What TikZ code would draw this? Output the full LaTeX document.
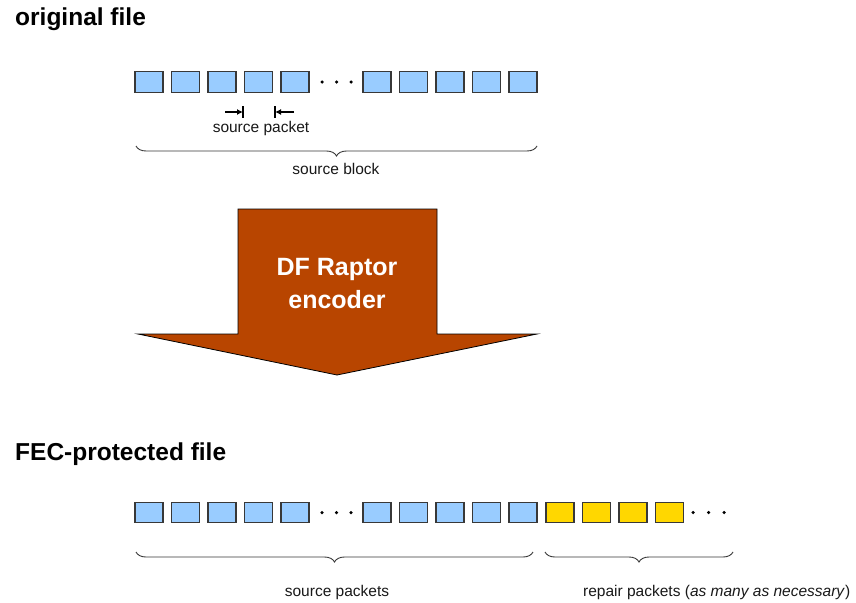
\documentclass[tikz,border=0pt]{standalone}
\usepackage{fontspec}
\setmainfont{Liberation Sans}
\usetikzlibrary{decorations.pathreplacing,arrows.meta}
\definecolor{pktblue}{HTML}{99CCFF}
\definecolor{pktyellow}{HTML}{FFD700}
\definecolor{encfill}{HTML}{B84500}
\definecolor{edgegray}{HTML}{383838}
\begin{document}
\begin{tikzpicture}[x=1pt,y=-1pt,
  pkt/.style={draw=edgegray, line width=1.2pt, minimum width=28pt, minimum height=20.5pt, inner sep=0pt, outer sep=0pt},
  srcpkt/.style={pkt, fill=pktblue},
  reppkt/.style={pkt, fill=pktyellow},
  dotmark/.style={circle, fill=black, inner sep=0pt, minimum size=3.5pt},
  titletext/.style={font=\fontsize{24.5}{28}\selectfont\bfseries, anchor=base west, inner sep=0pt},
  smalltext/.style={font=\fontsize{15.5}{18}\selectfont, anchor=base, inner sep=0pt, text=black!90},
  bracestyle/.style={draw=edgegray, line width=0.9pt, decorate, decoration={brace, mirror, amplitude=10pt}},
  dimarrow/.style={line width=1.3pt, -{Latex[length=6pt,width=6pt]}},
  dimbar/.style={line width=1.1pt},
]
\useasboundingbox (0,0) rectangle (856,602);
\fill[white] (0,0) rectangle (856,602);

% titles
\node[titletext] (t1) at (15,26) {original file};
\node[titletext] (t2) at (15,460) {FEC-protected file};

% top row
\foreach \i in {0,...,4} \node[srcpkt] (ta\i) at ({149+36.5*\i},82) {};
\foreach \i in {0,...,4} \node[srcpkt] (tb\i) at ({377+36.5*\i},82) {};
\node[dotmark] (td1) at (322,82) {};
\node[dotmark] (td2) at (336.5,82) {};
\node[dotmark] (td3) at (351,82) {};

% source packet marker
\coordinate (mLs) at (225,112);
\coordinate (mL) at (243,112);
\coordinate (mR) at (275,112);
\coordinate (mRs) at (294,112);
\draw[dimarrow] (mLs) -- (mL);
\draw[dimarrow] (mRs) -- (mR);
\draw[dimbar] (243,106) -- (243,118);
\draw[dimbar] (275,106) -- (275,118);
\node[smalltext] (sp) at (261,132) {source packet};

% source block brace
\coordinate (sbL) at (136,146);
\coordinate (sbR) at (537,146);
\draw[bracestyle] (sbL) -- (sbR);
\node[smalltext] (sb) at (336,174) {source block};

% encoder arrow
\draw[fill=encfill, draw=black, line width=0.8pt]
  (238,209) -- (437,209) -- (437,334) -- (537,334) -- (337,375) -- (138,334) -- (238,334) -- cycle;
\node[font=\fontsize{25}{33}\selectfont\bfseries, text=white, align=center, inner sep=0pt] (enc) at (337,284) {DF Raptor\\encoder};

% bottom row
\foreach \i in {0,...,4} \node[srcpkt] (ba\i) at ({149+36.5*\i},512.5) {};
\foreach \i in {0,...,4} \node[srcpkt] (bb\i) at ({377+36.5*\i},512.5) {};
\foreach \i in {0,...,3} \node[reppkt] (br\i) at ({560+36.5*\i},512.5) {};
\node[dotmark] (bd1) at (322,512.5) {};
\node[dotmark] (bd2) at (336.5,512.5) {};
\node[dotmark] (bd3) at (351,512.5) {};
\node[dotmark] (bd4) at (693,512.5) {};
\node[dotmark] (bd5) at (708.5,512.5) {};
\node[dotmark] (bd6) at (724,512.5) {};

% bottom braces
\coordinate (spL) at (136,552);
\coordinate (spR) at (533,552);
\coordinate (rpL) at (545,552);
\coordinate (rpR) at (733,552);
\draw[bracestyle] (spL) -- (spR);
\draw[bracestyle] (rpL) -- (rpR);
\node[smalltext] (spk) at (337,596) {source packets};
\node[smalltext, anchor=base west] (rpk) at (583,596) {repair packets (\textit{as many as necessary})};
\end{tikzpicture}
\end{document}
